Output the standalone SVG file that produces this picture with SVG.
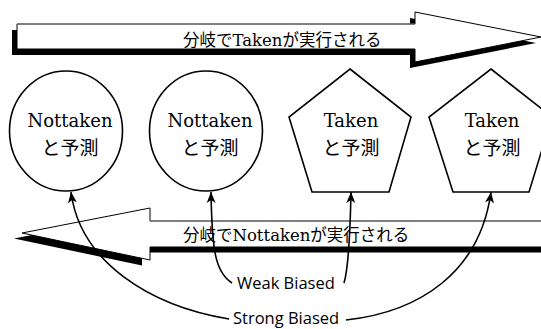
<svg xmlns="http://www.w3.org/2000/svg" width="541" height="329" viewBox="0 0 541 329">
<style>
.shape{fill:#fff;stroke:#000;stroke-width:1.6}
.node-t{font-family:"DejaVu Serif","Noto Sans CJK JP",serif;font-size:18px;fill:#000;text-anchor:middle}
.node-j{font-family:"Noto Sans CJK JP","DejaVu Serif",sans-serif;font-size:19px;fill:#000;text-anchor:middle}
.band-t{font-family:"DejaVu Serif","Noto Sans CJK JP",serif;font-size:16.5px;fill:#000}
.lbl{font-family:"Open Sans","DejaVu Sans",sans-serif;font-size:16.5px;fill:#000}
.conn{fill:none;stroke:#000;stroke-width:1.6}
.arrow-body{fill:#fff;stroke:#000;stroke-width:1}
.shadow{fill:#000}
.gline{stroke:#808080;stroke-width:1.2}
</style>
<defs>
<marker id="ah" markerUnits="userSpaceOnUse" markerWidth="14" markerHeight="12" viewBox="-12 -6 14 12" refX="0" refY="0" orient="auto">
<path d="M0,0 L-11,-4.5 L-8,0 L-11,4.5 Z" fill="#000"/>
</marker>
</defs>

<g id="band-taken">
<path class="shadow" transform="translate(-5,6)" d="M17,24 H415 V12 L541,37 L415,62 V49 H17 Z"/>
<path class="arrow-body" d="M17,24 H415 V12 L541,37 L415,62 V49 H17 Z"/>
<line class="gline" x1="17" y1="24" x2="415" y2="24"/>
<text class="band-t" x="183" y="46">分岐でTakenが実行される</text>
</g>

<g id="band-nottaken">
<path class="shadow" transform="translate(-8,5.5)" d="M22,233 L150,208 V221 H560 V247 H150 V260 Z"/>
<path class="arrow-body" d="M22,233 L150,208 V221 H560 V247 H150 V260 Z"/>
<line class="gline" x1="150" y1="221" x2="541" y2="221"/>
<text class="band-t" x="183" y="241">分岐でNottakenが実行される</text>
</g>

<g id="node1">
<ellipse class="shape" cx="66" cy="131" rx="56.5" ry="60"/>
<text class="node-t" x="70" y="127">Nottaken</text>
<text class="node-j" x="70" y="155">と予測</text>
</g>
<g id="node2">
<ellipse class="shape" cx="206" cy="131" rx="56.5" ry="60"/>
<text class="node-t" x="210" y="127">Nottaken</text>
<text class="node-j" x="210" y="155">と予測</text>
</g>
<g id="node3">
<polygon class="shape" points="350,69 411,117 389,192 312,192 289,117"/>
<text class="node-t" x="351" y="127">Taken</text>
<text class="node-j" x="351" y="155">と予測</text>
</g>
<g id="node4">
<polygon class="shape" points="491,69 552,117 529,192 453,192 429,117"/>
<text class="node-t" x="492" y="127">Taken</text>
<text class="node-j" x="492" y="155">と予測</text>
</g>

<g id="connectors">
<path class="conn" marker-end="url(#ah)" d="M232,283 C215,272 212,250 211,192"/>
<path class="conn" marker-end="url(#ah)" d="M344,283 C348,270 350,240 351,192"/>
<path class="conn" marker-end="url(#ah)" d="M229,319 C150,306 80,262 71,192"/>
<path class="conn" marker-end="url(#ah)" d="M346,320 C420,312 480,272 491,192"/>
</g>

<g id="labels">
<text class="lbl" x="237" y="289">Weak Biased</text>
<text class="lbl" x="233" y="324">Strong Biased</text>
</g>
</svg>
